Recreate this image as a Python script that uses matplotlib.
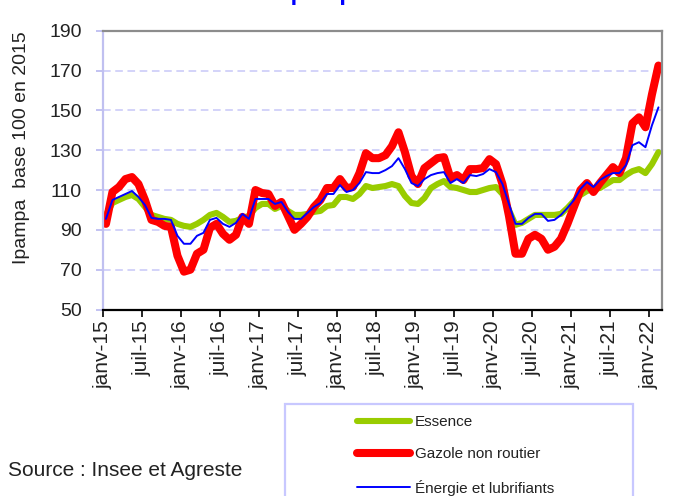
import matplotlib
matplotlib.use("Agg")
import matplotlib.pyplot as plt
import numpy as np
from matplotlib.patches import Rectangle

plt.rcParams['font.family'] = ['Liberation Sans', 'DejaVu Sans']

tick_labels = ["janv-15", "juil-15", "janv-16", "juil-16", "janv-17", "juil-17",
               "janv-18", "juil-18", "janv-19", "juil-19", "janv-20", "juil-20",
               "janv-21", "juil-21", "janv-22"]

# Monthly values, janv-2015 .. févr-2022
essence = [97.5, 103.5, 105, 106.5, 107.5, 105.5, 101.5, 97.5, 96.5, 95.5,
           95, 93, 92, 91.5, 93, 95, 97.5, 98.5, 96.5, 94,
           94.5, 96, 97, 101, 103, 103, 100.5, 102, 99.5, 97.5,
           97.5, 98, 99, 99.5, 102, 102.5, 106.5, 106.5, 105.5, 108,
           112, 111, 111.5, 112, 113, 112, 107, 103.5, 103, 106,
           111, 113, 114.5, 111.5, 111, 110, 109, 109, 110, 111,
           111.5, 108, 100, 92.5, 93.5, 95.5, 97.5, 97.5, 97.5, 97.5,
           98, 101, 104.5, 107.5, 109.5, 110.5, 111, 113, 115, 115,
           117.5, 119.5, 120.5, 118.5, 123, 129]

gazole = [93, 109, 111.5, 115.5, 116.5, 113, 105, 95, 94, 92,
          91.5, 77, 69, 70, 78, 80, 91, 93, 88, 85,
          87.5, 96.5, 93, 110, 108.5, 108, 102, 104, 97, 90,
          93, 96.5, 101.5, 105, 111, 111, 115.5, 111, 111.5, 118.5,
          128.5, 126, 126, 127.5, 132, 139, 129, 117, 113, 121,
          123.5, 126, 126.5, 116, 117.5, 115, 120.5, 120.5, 121, 125.5,
          123, 113, 97, 78, 78, 85.5, 87.5, 85.5, 80, 81.5,
          85.5, 93, 101.5, 110, 113.5, 109, 113.5, 117.5, 121.5, 118.5,
          126, 143.5, 146.5, 141.5, 158, 172.5]

energie = [95.5, 105, 106.5, 108, 109.5, 106.5, 102.5, 96, 95.5, 95.5,
           95, 87, 83, 83, 87, 88.5, 95, 96, 93, 91.5,
           93.5, 98, 95.5, 105.5, 105.5, 105.5, 103, 104, 99, 95.5,
           95.5, 98.5, 101.5, 103.5, 108, 108, 112.5, 109, 110, 113.5,
           119, 118.5, 118.5, 120, 122, 126, 120.5, 113.5, 112, 115.5,
           117.5, 118.5, 119, 113.5, 115.5, 113.5, 117.5, 117, 118, 120.5,
           119, 113, 103, 93, 93, 96, 98, 98, 94.5, 95,
           97.5, 101, 105, 110.5, 114, 111.5, 115, 117, 118.5, 118.5,
           122.5, 132.5, 134, 131.5, 142.5, 151.5]

n = len(essence)
x = np.arange(n) + 0.5

W, H = 681, 496
fig = plt.figure(figsize=(W / 100, H / 100), dpi=100)
L, R, T, B = 102.7, 661.7, 30.7, 309.5
ax = fig.add_axes([L / W, 1 - B / H, (R - L) / W, (B - T) / H])

kw = dict(solid_joinstyle='round', solid_capstyle='round')
ax.plot(x, essence, color='#99CC00', lw=4.4, label='Essence', **kw)
ax.plot(x, gazole, color='#FF0000', lw=5.8, label='Gazole non routier', **kw)
ax.plot(x, energie, color='#0000FF', lw=1.4, label='Énergie et lubrifiants', **kw)

ax.set_xlim(0, n)
ax.set_ylim(50, 190)
ax.set_yticks(range(50, 191, 20))
ax.set_xticks(np.arange(0, 85, 6))
ax.set_xticklabels(tick_labels, rotation=90)

ax.grid(axis='y', color='#C8C8F8', lw=1.1, ls=(0, (5, 3)), zorder=0)
ax.set_axisbelow(True)

ax.spines['left'].set_color('#C0C0F0')
ax.spines['left'].set_linewidth(1.6)
for s in ('top', 'right'):
    ax.spines[s].set_color('#8C8C8C')
    ax.spines[s].set_linewidth(1.6)
ax.spines['bottom'].set_color('black')
ax.spines['bottom'].set_linewidth(1.6)

ax.tick_params(axis='y', length=5, width=1.2, color='#B8B8F0', pad=10,
               labelsize=14, labelcolor='#222222')
ax.tick_params(axis='x', length=5, width=1.2, color='black', pad=3,
               labelsize=15, labelcolor='#222222')

fig.text(22 / W, 1 - 148 / H, 'Ipampa  base 100 en 2015', rotation=90,
         ha='center', va='center', fontsize=14, color='#222222')

# title, cut off at the top edge as in the reference
fig.text(390 / W, 1 - 0.3 / H, 'Ipampa carburants', ha='center', va='baseline',
         fontsize=17, fontweight='bold', color='#0000FF')

# legend frame
fig.add_artist(Rectangle((285 / W, -0.05), (633 - 285) / W, (496 - 404) / H + 0.05,
                         transform=fig.transFigure, fill=False,
                         edgecolor='#C8C8FF', lw=1.6))
fig.legend(loc='upper left', bbox_to_anchor=(357 / W, 1 - 415 / H),
           frameon=False, fontsize=11, handlelength=3.5, handletextpad=0.3,
           labelspacing=1.2, borderpad=0, borderaxespad=0,
           labelcolor='#222222')

fig.text(8 / W, 1 - 470 / H, 'Source : Insee et Agreste', ha='left', va='center',
         fontsize=15, color='#222222')

fig.savefig('out.png', dpi=100)
